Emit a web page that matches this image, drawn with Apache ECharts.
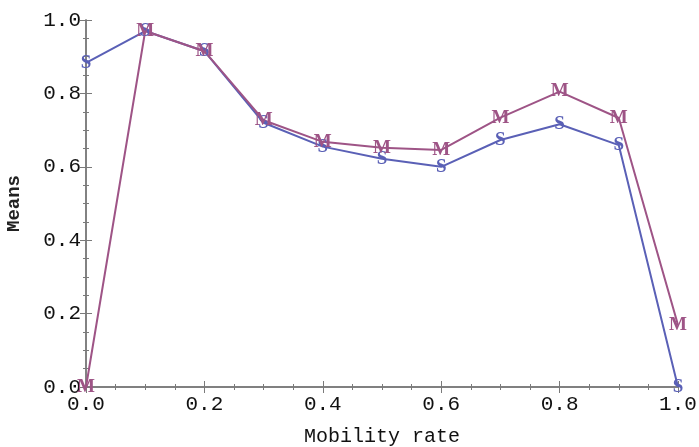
<!DOCTYPE html>
<html>
<head>
<meta charset="utf-8">
<script src="https://cdn.jsdelivr.net/npm/echarts@6/dist/echarts.min.js"></script>
<style>html,body{margin:0;padding:0;background:#fff}#c{width:699px;height:447px}</style>
</head>
<body>
<div id="c"></div>
<script>
var mobilityRates = [0.0, 0.1, 0.2, 0.3, 0.4, 0.5, 0.6, 0.7, 0.8, 0.9, 1.0];
var meansS = [0.883, 0.970, 0.915, 0.720, 0.655, 0.622, 0.600, 0.673, 0.716, 0.659, 0.0];
var meansM = [0.0, 0.970, 0.915, 0.727, 0.668, 0.652, 0.646, 0.734, 0.805, 0.733, 0.169];
var tickLabels = ['0.0', '0.2', '0.4', '0.6', '0.8', '1.0'];

var blue = '#5a60b6';
var purple = '#9e5486';
var axisCol = '#7a7a7a';
var mono = '"Liberation Mono", "DejaVu Sans Mono", monospace';

function pairs(ys) { return mobilityRates.map(function (x, i) { return [x, ys[i]]; }); }
function fmt(v) { return tickLabels[Math.round(v / 0.2)]; }

function series(name, ys, color, letter) {
  return {
    name: name, type: 'line', data: pairs(ys),
    symbol: 'circle', symbolSize: 1, showSymbol: true,
    itemStyle: { color: color, opacity: 0 },
    lineStyle: { color: color, width: 2 },
    label: {
      show: true, position: 'inside', formatter: letter,
      color: color, fontFamily: '"Liberation Serif", "DejaVu Serif", serif',
      fontSize: 19, fontWeight: 'bold', opacity: 1
    },
    emphasis: { disabled: true },
    animation: false
  };
}

var chart = echarts.init(document.getElementById('c'));
var axisCommon = {
  type: 'value', min: 0, max: 1, interval: 0.2,
  axisLine: { show: true, lineStyle: { color: axisCol, width: 1.5 } },
  axisTick: { show: true, inside: true, length: 6, lineStyle: { color: axisCol } },
  minorTick: { show: true, splitNumber: 4, length: 3, lineStyle: { color: axisCol } },
  splitLine: { show: false }
};
chart.setOption({
  animation: false,
  grid: { left: 86, right: 21, top: 20, bottom: 60, containLabel: false, outerBoundsMode: 'none' },
  xAxis: [
    Object.assign({}, axisCommon, {
      position: 'bottom',
      name: 'Mobility rate', nameLocation: 'middle', nameGap: 40,
      nameTextStyle: { fontFamily: mono, fontSize: 20, color: '#111' },
      axisLabel: { fontFamily: mono, fontSize: 21, color: '#111', margin: 7,
        formatter: fmt }
    }),
    Object.assign({}, axisCommon, { position: 'top', axisLabel: { show: false } })
  ],
  yAxis: [
    Object.assign({}, axisCommon, {
      position: 'left',
      name: 'Means', nameLocation: 'middle', nameGap: 62, nameRotate: 90,
      nameTextStyle: { fontFamily: mono, fontSize: 19, fontWeight: 'bold', color: '#222' },
      axisLabel: { fontFamily: mono, fontSize: 21, color: '#111', margin: 5,
        formatter: fmt }
    }),
    Object.assign({}, axisCommon, { position: 'right', axisLabel: { show: false } })
  ],
  series: [
    series('S', meansS, blue, 'S'),
    series('M', meansM, purple, 'M')
  ]
});
</script>
</body>
</html>
